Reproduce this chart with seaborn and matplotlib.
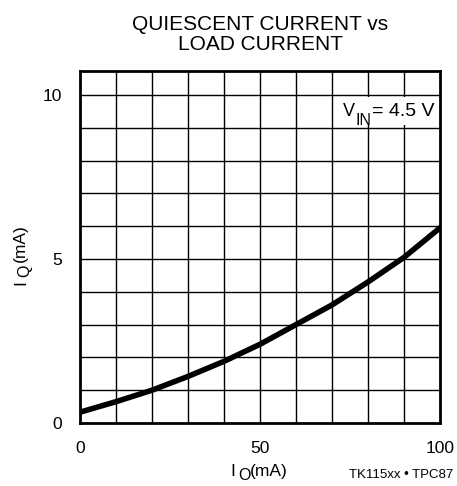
import numpy as np
import pandas as pd
import seaborn as sns
import matplotlib.pyplot as plt
from matplotlib.patches import Rectangle

# values
load_ma = [0, 10, 20, 30, 40, 50, 60, 70, 80, 90, 100]
iq_ma = [0.33, 0.65, 1.0, 1.42, 1.88, 2.4, 3.0, 3.6, 4.3, 5.05, 5.95]
x_ticks = [0, 50, 100]
y_ticks = [0, 5, 10]

df = pd.DataFrame({'Io': load_ma, 'Iq': iq_ma})

sns.set_style('white')
plt.rcParams['font.family'] = ['Liberation Sans', 'DejaVu Sans']
for k in ['text.color', 'axes.labelcolor', 'xtick.color', 'ytick.color']:
    plt.rcParams[k] = 'black'

W, H = 457, 486
fig = plt.figure(figsize=(W / 100, H / 100), dpi=100)
ax = fig.add_axes([0.175, 0.1296, 0.788, 0.7244])

# grid
for gx in range(10, 100, 10):
    ax.axvline(gx, color='black', lw=1.0, zorder=1)
for gy in range(1, 11):
    ax.axhline(gy, color='black', lw=1.0, zorder=1)

sns.lineplot(data=df, x='Io', y='Iq', ax=ax, color='black', lw=4, zorder=3)

ax.set_xlim(0, 100)
ax.set_ylim(0, 10.73)
ax.set_xticks(x_ticks)
ax.set_yticks(y_ticks)
ax.tick_params(length=0, labelsize=12.5, pad=13)
for s in ax.spines.values():
    s.set_color('black')
    s.set_linewidth(2)
    s.set_zorder(4)
ax.set_xlabel('')
ax.set_ylabel('')
ax.set_title('QUIESCENT CURRENT vs\nLOAD CURRENT', fontsize=15, pad=15, linespacing=1.05)

# axis labels with large subscripts, built from pieces (pixel positions)
def fx(px):
    return px / W

def fy(py):
    return (H - py) / H

lab = dict(fontsize=12.5, ha='left', va='baseline')
fig.text(fx(230), fy(476), 'I', **lab)
fig.text(fx(238), fy(480), 'O', fontsize=11.5, ha='left', va='baseline')
fig.text(fx(250), fy(476), '(mA)', **lab)

rot = dict(rotation=90, rotation_mode='anchor', ha='left', va='baseline')
fig.text(fx(25), fy(285), 'I', fontsize=12.5, **rot)
fig.text(fx(29), fy(277), 'Q', fontsize=11.5, **rot)
fig.text(fx(25), fy(262), '(mA)', fontsize=12.5, **rot)

# V_IN label on a white patch
ax.add_patch(Rectangle((72.5, 9.08), 27.5, 0.86, facecolor='white', edgecolor='none', zorder=2))
ax.text(73.1, 9.36, 'V', fontsize=13, va='baseline', ha='left', zorder=5)
ax.text(76.4, 9.08, 'IN', fontsize=11.5, va='baseline', ha='left', zorder=5)
ax.text(81.0, 9.36, '= 4.5 V', fontsize=14, va='baseline', ha='left', zorder=5)

fig.text(fx(453), fy(478), 'TK115xx • TPC87', ha='right', va='baseline', fontsize=9.5)

plt.savefig('out.png', dpi=100)
